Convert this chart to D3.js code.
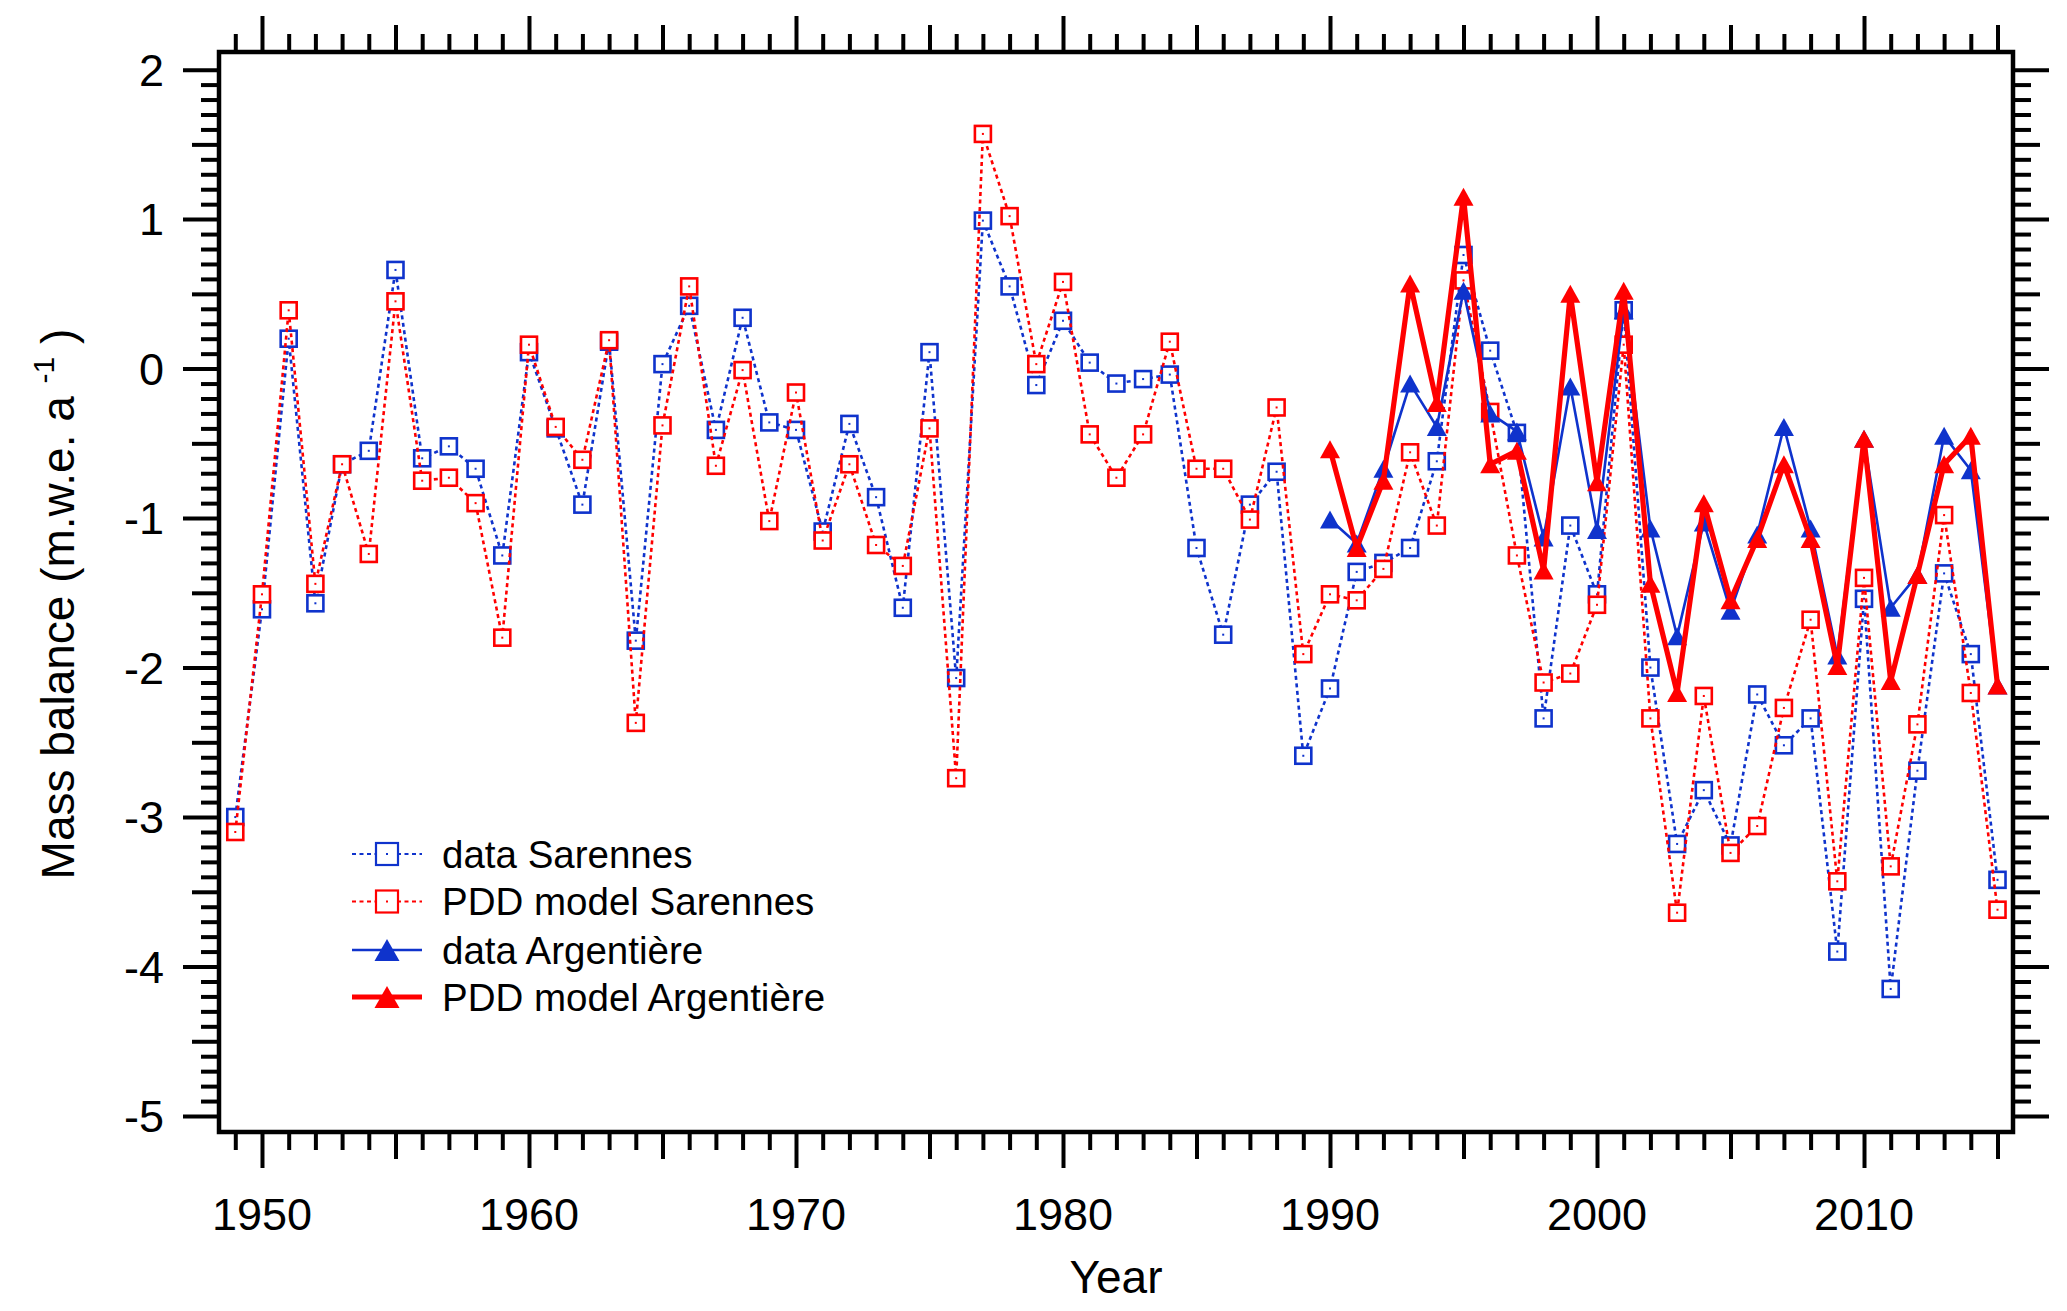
<!DOCTYPE html>
<html>
<head>
<meta charset="utf-8">
<script src="https://cdn.jsdelivr.net/npm/d3@7"></script>
<style>
  html, body { margin: 0; padding: 0; background: #fff; }
  svg { display: block; }
  text { font-family: "Liberation Sans", Arial, Helvetica, sans-serif; fill: #000; }
</style>
</head>
<body>
<svg id="chart" width="2067" height="1311"></svg>
<script>
// ---------- data ----------
const yearsSarennes = d3.range(1949, 2016);
const dataSarennes = [
  -3.00, -1.61, 0.20, -1.57, -0.64, -0.55, 0.66, -0.60, -0.52, -0.67,
  -1.25, 0.11, -0.40, -0.91, 0.18, -1.82, 0.03, 0.42, -0.41, 0.34,
  -0.36, -0.41, -1.09, -0.37, -0.86, -1.60, 0.11, -2.07, 0.99, 0.55,
  -0.11, 0.32, 0.04, -0.10, -0.07, -0.04, -1.20, -1.78, -0.91, -0.69,
  -2.59, -2.14, -1.36, -1.30, -1.20, -0.62, 0.76, 0.12, -0.43, -2.34,
  -1.05, -1.51, 0.39, -2.00, -3.18, -2.82, -3.19, -2.18, -2.52, -2.34,
  -3.90, -1.54, -4.15, -2.69, -1.37, -1.91, -3.42
];
const pddSarennes = [
  -3.10, -1.51, 0.39, -1.44, -0.64, -1.24, 0.45, -0.75, -0.73, -0.90,
  -1.80, 0.16, -0.39, -0.61, 0.19, -2.37, -0.38, 0.55, -0.65, -0.01,
  -1.02, -0.16, -1.15, -0.64, -1.18, -1.32, -0.40, -2.74, 1.57, 1.02,
  0.03, 0.58, -0.44, -0.73, -0.44, 0.18, -0.67, -0.67, -1.01, -0.26,
  -1.91, -1.51, -1.55, -1.34, -0.56, -1.05, 0.59, -0.29, -1.25, -2.10,
  -2.04, -1.58, 0.16, -2.34, -3.64, -2.19, -3.24, -3.06, -2.27, -1.68,
  -3.43, -1.40, -3.33, -2.38, -0.98, -2.17, -3.62
];
const yearsArgentiere = d3.range(1990, 2016);
const dataArgentiere = [
  -1.01, -1.17, -0.67, -0.10, -0.39, 0.52, -0.30, -0.42, -1.13, -0.12,
  -1.08, 0.39, -1.07, -1.79, -1.03, -1.62, -1.11, -0.39, -1.07, -1.92,
  -0.47, -1.60, -1.38, -0.45, -0.68, -2.12
];
const pddArgentiere = [
  -0.54, -1.20, -0.75, 0.57, -0.23, 1.15, -0.64, -0.55, -1.35, 0.50,
  -0.76, 0.52, -1.44, -2.17, -0.90, -1.55, -1.14, -0.64, -1.14, -1.99,
  -0.47, -2.09, -1.38, -0.64, -0.45, -2.12
];
const yTickLabels = ["2", "1", "0", "-1", "-2", "-3", "-4", "-5"];
const xTickLabels = ["1950", "1960", "1970", "1980", "1990", "2000", "2010"];
const legendLabels = ["data Sarennes", "PDD model Sarennes", "data Argentière", "PDD model Argentière"];

// ---------- setup ----------
const BLUE = "#0f33cc", RED = "#ff0000";
const svg = d3.select("#chart");
const L = 219, R = 2013, T = 52, B = 1132;
const x = d3.scaleLinear().domain([1948.39, 2015.58]).range([L, R]);
const y = d3.scaleLinear().domain([2.118, -5.107]).range([T, B]);

// ---------- axes ----------
const yTicks = d3.range(-50, 21).map(d => d / 10);
const xTicks = d3.range(1949, 2016);
function yLen(v) { const t = Math.round(v * 10); return t % 10 === 0 ? 36 : (t % 5 === 0 ? 27 : 18); }
function xLen(v) { return v % 10 === 0 ? 36 : (v % 5 === 0 ? 27 : 18); }

function styleAxis(g) {
  g.select(".domain").remove();
  g.selectAll(".tick line").attr("stroke", "#000").attr("stroke-width", 4);
  g.selectAll(".tick text").remove();
}

const gLeft = svg.append("g").attr("transform", `translate(${L},0)`)
  .call(d3.axisLeft(y).tickValues(yTicks).tickSize(18).tickFormat(() => ""));
styleAxis(gLeft);
gLeft.selectAll(".tick line").attr("x2", d => -yLen(d));

const gRight = svg.append("g").attr("transform", `translate(${R},0)`)
  .call(d3.axisRight(y).tickValues(yTicks).tickSize(18).tickFormat(() => ""));
styleAxis(gRight);
gRight.selectAll(".tick line").attr("x2", d => yLen(d));

const gBottom = svg.append("g").attr("transform", `translate(0,${B})`)
  .call(d3.axisBottom(x).tickValues(xTicks).tickSize(18).tickFormat(() => ""));
styleAxis(gBottom);
gBottom.selectAll(".tick line").attr("y2", d => xLen(d));

const gTop = svg.append("g").attr("transform", `translate(0,${T})`)
  .call(d3.axisTop(x).tickValues(xTicks).tickSize(18).tickFormat(() => ""));
styleAxis(gTop);
gTop.selectAll(".tick line").attr("y2", d => -xLen(d));

// tick labels
svg.append("g").selectAll("text").data(yTickLabels).join("text")
  .attr("x", 164).attr("y", d => y(+d)).attr("dy", "0.36em")
  .attr("text-anchor", "end").attr("font-size", 45).text(d => d);
svg.append("g").selectAll("text").data(xTickLabels).join("text")
  .attr("x", d => x(+d)).attr("y", 1230)
  .attr("text-anchor", "middle").attr("font-size", 45).text(d => d);

// frame
svg.append("rect").attr("x", L).attr("y", T).attr("width", R - L).attr("height", B - T)
  .attr("fill", "none").attr("stroke", "#000").attr("stroke-width", 4.5);

// axis titles
svg.append("text").attr("x", (L + R) / 2).attr("y", 1293).attr("text-anchor", "middle")
  .attr("font-size", 46).text("Year");
const yt = svg.append("text").attr("transform", "translate(74,604) rotate(-90)")
  .attr("text-anchor", "middle").attr("font-size", 46);
yt.append("tspan").text("Mass balance (m.w.e. a ");
yt.append("tspan").attr("font-size", 30).attr("dy", -20).text("-1");
yt.append("tspan").attr("dy", 20).text(" )");

// ---------- series ----------
const plot = svg.append("g");
function tri(w, h) { return `M0,${-h / 2}L${w / 2},${h / 2}L${-w / 2},${h / 2}Z`; }

function drawSquares(years, vals, color) {
  const pts = years.map((yr, i) => [yr, vals[i]]);
  plot.append("path").datum(pts)
    .attr("d", d3.line().x(d => x(d[0])).y(d => y(d[1])))
    .attr("fill", "none").attr("stroke", color).attr("stroke-width", 2.6)
    .attr("stroke-dasharray", "4,3.5");
  const g = plot.append("g").selectAll("g").data(pts).join("g")
    .attr("transform", d => `translate(${x(d[0])},${y(d[1])})`);
  g.append("rect").attr("x", -8).attr("y", -8).attr("width", 16).attr("height", 16)
    .attr("fill", "#fff").attr("stroke", color).attr("stroke-width", 2.6);
  g.append("rect").attr("x", -1).attr("y", -1).attr("width", 2).attr("height", 2).attr("fill", color);
}
function drawTriangles(years, vals, color, lw) {
  const pts = years.map((yr, i) => [yr, vals[i]]);
  plot.append("path").datum(pts)
    .attr("d", d3.line().x(d => x(d[0])).y(d => y(d[1])))
    .attr("fill", "none").attr("stroke", color).attr("stroke-width", lw).attr("stroke-linejoin", "miter");
  plot.append("g").selectAll("path").data(pts).join("path")
    .attr("transform", d => `translate(${x(d[0])},${y(d[1])})`)
    .attr("d", tri(20, 18)).attr("fill", color);
}
drawSquares(yearsSarennes, dataSarennes, BLUE);
drawSquares(yearsSarennes, pddSarennes, RED);
drawTriangles(yearsArgentiere, dataArgentiere, BLUE, 2.6);
drawTriangles(yearsArgentiere, pddArgentiere, RED, 5.2);

// ---------- legend ----------
const legendRows = [854, 901.5, 950, 997];
const legendStyle = [
  { c: BLUE, dash: "4,3.5", w: 2, m: "sq" },
  { c: RED, dash: "4,3.5", w: 2, m: "sq" },
  { c: BLUE, dash: null, w: 2.6, m: "tri" },
  { c: RED, dash: null, w: 5.2, m: "tri" }
];
const lg = svg.append("g");
legendLabels.forEach((lab, i) => {
  const s = legendStyle[i], cy = legendRows[i];
  lg.append("line").attr("x1", 352).attr("x2", 422).attr("y1", cy).attr("y2", cy)
    .attr("stroke", s.c).attr("stroke-width", s.w).attr("stroke-dasharray", s.dash);
  if (s.m === "sq") {
    lg.append("rect").attr("x", 376).attr("y", cy - 11).attr("width", 22).attr("height", 22)
      .attr("fill", "#fff").attr("stroke", s.c).attr("stroke-width", 2.2);
    lg.append("rect").attr("x", 386).attr("y", cy - 1).attr("width", 2).attr("height", 2).attr("fill", s.c);
  } else {
    lg.append("path").attr("transform", `translate(387,${cy})`).attr("d", tri(25, 22)).attr("fill", s.c);
  }
  lg.append("text").attr("x", 442).attr("y", cy).attr("dy", "0.36em")
    .attr("font-size", 38.5).text(lab);
});
</script>
</body>
</html>
